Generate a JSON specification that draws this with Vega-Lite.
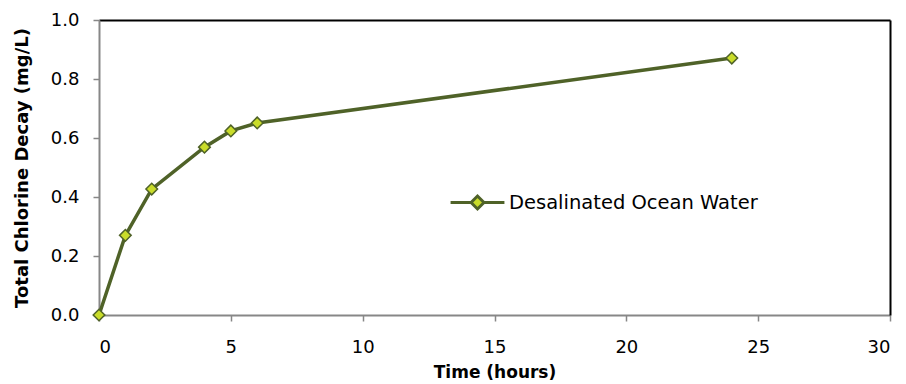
{
  "$schema": "https://vega.github.io/schema/vega-lite/v6.json",
  "width": 791,
  "height": 295,
  "autosize": {"type": "none"},
  "padding": {"left": 99, "top": 20, "right": 16, "bottom": 69},
  "background": "white",
  "config": {
    "view": {"stroke": null},
    "font": "DejaVu Sans",
    "axis": {
      "labelFont": "DejaVu Sans",
      "labelFontSize": 18,
      "labelColor": "black",
      "titleFont": "DejaVu Sans",
      "titleFontSize": 17,
      "titleFontWeight": "bold",
      "titleColor": "black",
      "domainColor": "#878787",
      "domainWidth": 2,
      "tickColor": "#878787",
      "tickWidth": 1.5,
      "tickSize": 6,
      "grid": false
    }
  },
  "data": {
    "values": [
      {"time": 0, "decay": 0, "series": "Desalinated Ocean Water"},
      {"time": 1, "decay": 0.27, "series": "Desalinated Ocean Water"},
      {"time": 2, "decay": 0.427, "series": "Desalinated Ocean Water"},
      {"time": 4, "decay": 0.569, "series": "Desalinated Ocean Water"},
      {"time": 5, "decay": 0.624, "series": "Desalinated Ocean Water"},
      {"time": 6, "decay": 0.651, "series": "Desalinated Ocean Water"},
      {"time": 24, "decay": 0.871, "series": "Desalinated Ocean Water"}
    ]
  },
  "layer": [
    {
      "mark": {"type": "line", "strokeWidth": 3.5},
      "encoding": {
        "x": {
          "field": "time", "type": "quantitative",
          "scale": {"domain": [0, 30], "nice": false},
          "axis": {"values": [0, 5, 10, 15, 20, 25, 30], "title": "Time (hours)", "labelPadding": 17, "titlePadding": 8}
        },
        "y": {
          "field": "decay", "type": "quantitative",
          "scale": {"domain": [0, 1], "nice": false},
          "axis": {"values": [0, 0.2, 0.4, 0.6, 0.8, 1.0], "format": ".1f", "title": "Total Chlorine Decay (mg/L)", "titleFontSize": 18, "labelPadding": 14, "titlePadding": 19}
        },
        "color": {
          "field": "series", "type": "nominal",
          "scale": {"range": ["#4f6228"]},
          "legend": {
            "title": null,
            "orient": "none",
            "legendX": 350,
            "legendY": 154,
            "labelFont": "DejaVu Sans",
            "labelFontSize": 19.5,
            "labelColor": "black",
            "labelLimit": 500,
            "symbolSize": 2900,
            "symbolStrokeWidth": 3,
            "labelOffset": 3,
            "encode": {
              "symbols": {
                "update": {
                  "shape": {"value": "M-1,0H-0.24L0,-0.24L0.24,0L0,0.24L-0.24,0ZM0.24,0H1"},
                  "fill": {"value": "#c9dc2a"},
                  "stroke": {"value": "#4f6228"},
                  "strokeWidth": {"value": 3}
                }
              }
            }
          }
        }
      }
    },
    {
      "mark": {"type": "point", "shape": "diamond", "filled": true, "fill": "#c9dc2a", "stroke": "#4f6228", "strokeWidth": 1.5, "size": 135, "opacity": 1},
      "encoding": {
        "x": {
          "field": "time", "type": "quantitative",
          "axis": {"orient": "top", "labels": false, "ticks": false, "title": null, "domainColor": "black", "domainWidth": 2}
        },
        "y": {
          "field": "decay", "type": "quantitative",
          "axis": {"orient": "right", "labels": false, "ticks": false, "title": null, "domainColor": "black", "domainWidth": 2}
        }
      }
    }
  ],
  "resolve": {"axis": {"x": "independent", "y": "independent"}}
}
